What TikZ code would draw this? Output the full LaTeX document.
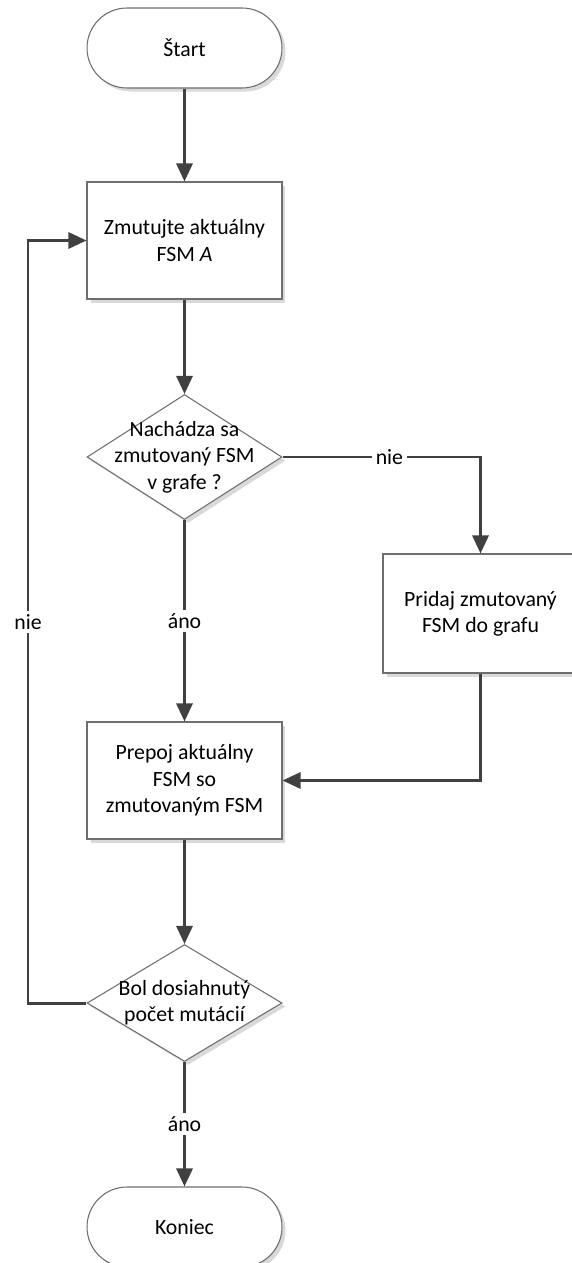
\documentclass[tikz,border=0pt]{standalone}
\usepackage{fontspec}
\setmainfont{Carlito}
\usetikzlibrary{arrows.meta,positioning,shapes.geometric,shadows}
\definecolor{linka}{HTML}{404040}
\definecolor{okraj}{HTML}{6E6E6E}

\begin{document}
\begin{tikzpicture}[
    x=0.02cm, y=-0.02cm,
    font=\fontsize{12.4}{15}\selectfont,
    tvar/.style={draw=okraj, line width=0.6pt, fill=white,
        drop shadow={shadow xshift=2pt, shadow yshift=-2pt, fill=black!15, opacity=1}},
    krok/.style={tvar, rectangle, minimum width=3.9cm, minimum height=2.34cm, align=center},
    koniec/.style={tvar, rectangle, rounded corners=0.8cm, minimum width=3.9cm, minimum height=1.6cm},
    otazka/.style={tvar, diamond, minimum width=3.9cm, minimum height=2.5cm, inner sep=0pt},
    txt/.style={align=center, inner sep=0pt},
    sipka/.style={-{Triangle[length=0.36cm, width=0.32cm]}, line width=1.7pt, draw=linka},
    popis/.style={fill=white, inner sep=2pt}
]

\useasboundingbox (0,0) rectangle (571,1263);

% tvary
\node[koniec] (start) at (184.5,48) {Štart};
\node[krok] (zmutuj) at (184.5,240.5) {Zmutujte aktuálny\\FSM \textit{A}};
\node[otazka] (najdeny) at (184.5,457) {};
\node[txt] (najdenyT) at (najdeny) {Nachádza sa\\zmutovaný FSM\\v grafe ?};
\node[krok, minimum height=2.38cm] (pridaj) at (480.5,613.5) {Pridaj zmutovaný\\FSM do grafu};
\node[krok] (prepoj) at (184.5,780.5) {Prepoj aktuálny\\FSM so\\zmutovaným FSM};
\node[otazka, minimum height=2.34cm] (hotovo) at (184.5,1003) {};
\node[txt] (hotovoT) at (hotovo) {Bol dosiahnutý\\počet mutácií};
\node[koniec] (koniec) at (184.5,1227) {Koniec};

% body pre slucku
\coordinate (vlavoDole) at (28,1003);
\coordinate (vlavoHore) at (28,240.5);

% spojnice
\draw[sipka] (start) -- (zmutuj);
\draw[sipka] (zmutuj) -- (najdeny);
\draw[sipka] (najdeny.east) -| node[popis, pos=0.27] {nie} (pridaj.north);
\draw[sipka] (najdeny) -- node[popis] {áno} (prepoj);
\draw[sipka] (pridaj.south) |- (prepoj.east);
\draw[sipka] (prepoj) -- (hotovo);
\draw[sipka] (hotovo.west) -- (vlavoDole) -- node[popis] {nie} (vlavoHore) -- (zmutuj.west);
\draw[sipka] (hotovo) -- node[popis] {áno} (koniec);

\end{tikzpicture}
\end{document}
